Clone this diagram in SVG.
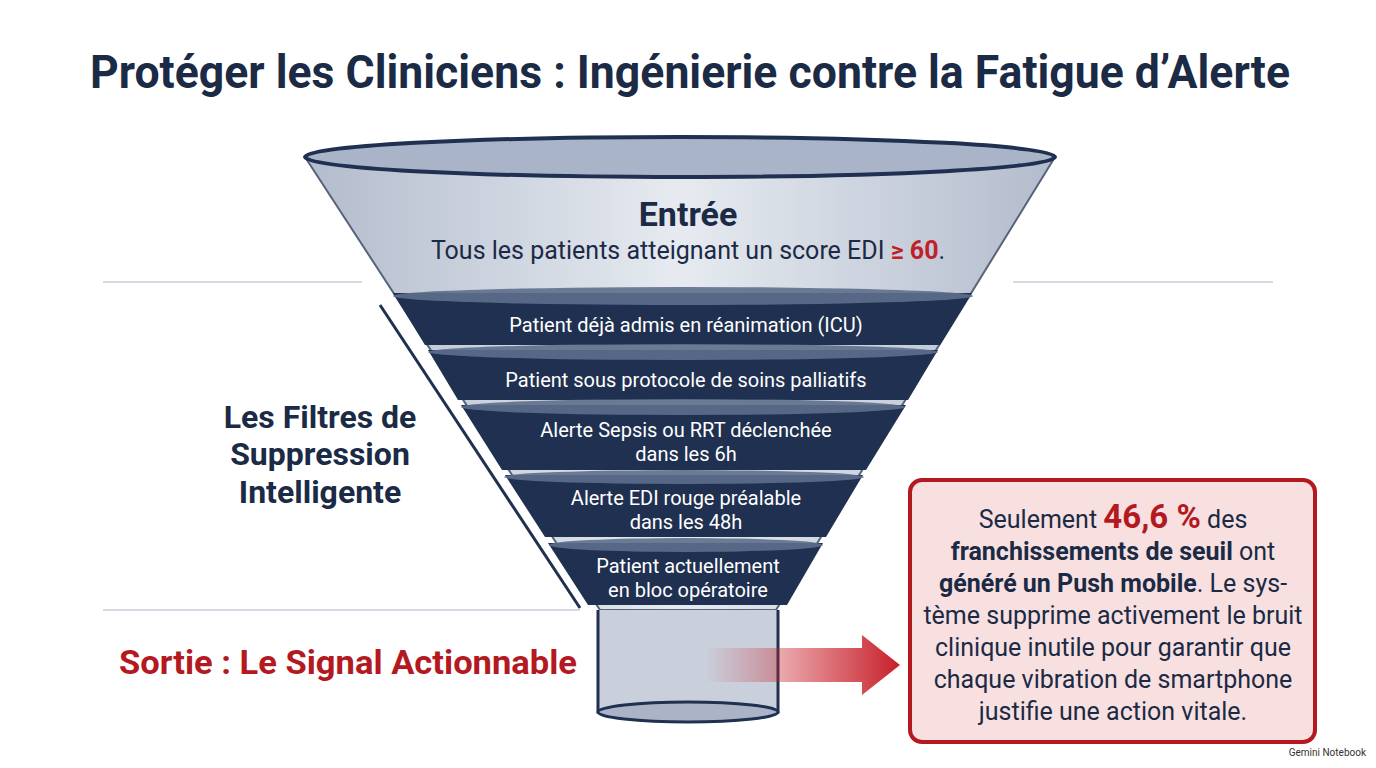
<svg xmlns="http://www.w3.org/2000/svg" width="1376" height="768" viewBox="0 0 1376 768">
<defs>
<style>
text{font-family:Roboto,"Liberation Sans",sans-serif}
.t{fill:#1b2a45;font-weight:700}
.w{fill:#fff;font-size:20px;text-anchor:middle}
.b{fill:#1b2a45;font-size:25px;text-anchor:middle}
.band{fill:#1f3050}
.rim{fill:#5d6f8c;opacity:.9}
.hl{stroke:#c9ced8;stroke-width:1.5}
</style>
<linearGradient id="ar" x1="0" x2="1"><stop offset="0" stop-color="#c8202a" stop-opacity="0"/><stop offset="1" stop-color="#c8202a"/></linearGradient>
<linearGradient id="gl" x1="0" x2="1"><stop offset="0" stop-color="#9aa6bc"/><stop offset=".5" stop-color="#dfe4ec"/><stop offset="1" stop-color="#9aa6bc"/></linearGradient>
</defs>
<rect width="1376" height="768" fill="#fff"/>
<text x="690" y="88" class="t" font-size="46" text-anchor="middle" textLength="1200" lengthAdjust="spacingAndGlyphs">Protéger les Cliniciens : Ingénierie contre la Fatigue d’Alerte</text>
<g id="guides">
<line x1="103" y1="282" x2="362" y2="282" class="hl"/>
<line x1="1013" y1="282" x2="1273" y2="282" class="hl"/>
<line x1="103" y1="610" x2="580" y2="610" class="hl"/>
<line x1="380" y1="305" x2="580" y2="608" stroke="#1f3050" stroke-width="3"/>
</g>
<g id="funnel">
<path d="M305 157 L600 610 L776 610 L1055 157 Z" fill="url(#gl)" opacity=".75" stroke="#1f3050" stroke-width="2"/>
<ellipse cx="680" cy="157" rx="375" ry="20" fill="#a9b4c8" stroke="#1f3050" stroke-width="4"/>
<path d="M393 293 L425 345 L940 345 L972 293 Z" class="band"/>
<ellipse cx="683" cy="296" rx="290" ry="9" class="rim"/>
<path d="M428 350 L458 400 L908 400 L938 350 Z" class="band"/>
<ellipse cx="683" cy="352" rx="255" ry="8" class="rim"/>
<path d="M461 405 L502 470 L866 470 L906 405 Z" class="band"/>
<ellipse cx="683" cy="407" rx="222" ry="8" class="rim"/>
<path d="M505 475 L545 537 L826 537 L863 475 Z" class="band"/>
<ellipse cx="684" cy="477" rx="180" ry="7" class="rim"/>
<path d="M548 543 L588 605 L787 605 L823 543 Z" class="band"/>
<ellipse cx="686" cy="545" rx="137" ry="7" class="rim"/>
<path d="M598 610 L598 712 L778 712 L778 610" fill="#c9d0dc" stroke="#1f3050" stroke-width="3"/>
<ellipse cx="688" cy="712" rx="90" ry="10" fill="#aab4c6" stroke="#1f3050" stroke-width="3"/>
<text x="688" y="226" class="t" font-size="34" text-anchor="middle">Entrée</text>
<text x="688" y="259" fill="#1b2a45" font-size="25" text-anchor="middle">Tous les patients atteignant un score EDI <tspan fill="#c0202a" font-weight="700">≥ 60</tspan>.</text>
<text x="686" y="332" class="w">Patient déjà admis en réanimation (ICU)</text>
<text x="686" y="387" class="w">Patient sous protocole de soins palliatifs</text>
<text x="686" y="437" class="w">Alerte Sepsis ou RRT déclenchée</text>
<text x="686" y="461" class="w">dans les 6h</text>
<text x="686" y="505" class="w">Alerte EDI rouge préalable</text>
<text x="686" y="529" class="w">dans les 48h</text>
<text x="688" y="573" class="w">Patient actuellement</text>
<text x="688" y="597" class="w">en bloc opératoire</text>
</g>
<g id="labels">
<text x="320" y="428" class="t" font-size="32" text-anchor="middle">Les Filtres de</text>
<text x="320" y="465" class="t" font-size="32" text-anchor="middle">Suppression</text>
<text x="320" y="503" class="t" font-size="32" text-anchor="middle">Intelligente</text>
<text x="348" y="674" fill="#b3191f" font-weight="700" font-size="34" text-anchor="middle" textLength="458" lengthAdjust="spacingAndGlyphs">Sortie : Le Signal Actionnable</text>
</g>
<g id="connectors">
<path d="M705 648 L862 648 L862 635 L900 665 L862 695 L862 682 L705 682 Z" fill="url(#ar)"/>
</g>
<g id="note">
<rect x="910" y="480" width="405" height="262" rx="12" fill="#f8e0e0" stroke="#b3191f" stroke-width="4"/>
<text x="1113" y="528" class="b">Seulement <tspan fill="#b3191f" font-weight="700" font-size="33">46,6 %</tspan> des</text>
<text x="1113" y="560" class="b" font-weight="700">franchissements de seuil <tspan font-weight="400">ont</tspan></text>
<text x="1113" y="592" class="b"><tspan font-weight="700">généré un Push mobile</tspan>. Le sys-</text>
<text x="1113" y="624" class="b">tème supprime activement le bruit</text>
<text x="1113" y="656" class="b">clinique inutile pour garantir que</text>
<text x="1113" y="688" class="b">chaque vibration de smartphone</text>
<text x="1113" y="720" class="b">justifie une action vitale.</text>
</g>
<text x="1366" y="756" font-size="10" fill="#333" text-anchor="end">Gemini Notebook</text>
</svg>
